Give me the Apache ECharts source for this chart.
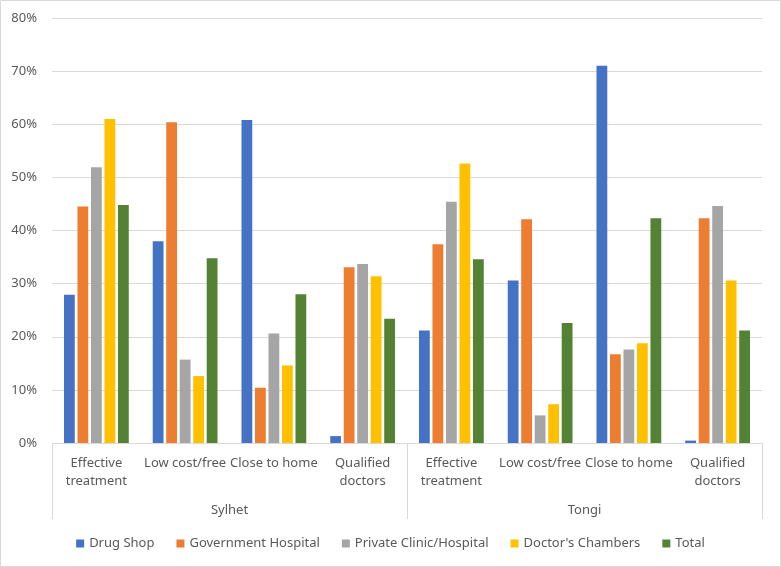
<!DOCTYPE html>
<html>
<head>
<meta charset="utf-8">
<script src="https://cdn.jsdelivr.net/npm/echarts@6/dist/echarts.min.js"></script>
<style>
html,body{margin:0;padding:0;background:#fff;}
#chart{width:781px;height:567px;}
</style>
</head>
<body>
<div id="chart"></div>
<script>
const categories = ['Effective\ntreatment', 'Low cost/free', 'Close to home', 'Qualified\ndoctors',
                    'Effective\ntreatment', 'Low cost/free', 'Close to home', 'Qualified\ndoctors'];
const groups = ['Sylhet', 'Tongi'];
const seriesNames = ['Drug Shop', 'Government Hospital', 'Private Clinic/Hospital', "Doctor's Chambers", 'Total'];
const drugShop       = [27.9, 38.0, 60.8, 1.3, 21.2, 30.6, 71.0, 0.45];
const govHospital    = [44.5, 60.4, 10.4, 33.1, 37.4, 42.1, 16.7, 42.3];
const privateClinic  = [51.9, 15.7, 20.6, 33.7, 45.4, 5.2, 17.6, 44.6];
const doctorsChamber = [61.0, 12.6, 14.6, 31.4, 52.6, 7.3, 18.8, 30.6];
const total          = [44.8, 34.8, 28.0, 23.4, 34.6, 22.6, 42.3, 21.2];
const yTicks = { min: 0, max: 80, interval: 10 };

const colors = ['#4472C4', '#ED7D31', '#A5A5A5', '#FFC000', '#548235'];
const dataSets = [drugShop, govHospital, privateClinic, doctorsChamber, total];
const FONT = 'Noto Sans';
const chart = echarts.init(document.getElementById('chart'));
chart.setOption({
  animation: false,
  textStyle: { fontFamily: FONT },
  color: colors,
  graphic: [{
    type: 'rect', shape: { x: 0.5, y: 0.5, width: 780, height: 566 },
    style: { fill: 'none', stroke: '#d9d9d9', lineWidth: 1 }, silent: true, z: -1
  }],
  grid: { left: 52, right: 19, top: 18, bottom: 124, containLabel: false },
  legend: {
    bottom: 12, left: 'center', itemWidth: 8, itemHeight: 8, itemGap: 22,
    icon: 'rect',
    textStyle: { color: '#595959', fontSize: 13, fontFamily: FONT },
    data: seriesNames
  },
  xAxis: [{
    type: 'category', data: categories, position: 'bottom',
    axisLine: { lineStyle: { color: '#d9d9d9' } },
    axisTick: { show: false },
    axisLabel: { color: '#595959', fontSize: 13, margin: 11, lineHeight: 18, interval: 0, fontFamily: FONT }
  }, {
    type: 'category', data: groups, position: 'bottom',
    axisLine: { show: false },
    axisTick: { show: true, length: 76, lineStyle: { color: '#d9d9d9' } },
    axisLabel: { color: '#595959', fontSize: 13, margin: 61, fontFamily: FONT },
    splitLine: { show: false }
  }],
  yAxis: {
    type: 'value', min: yTicks.min, max: yTicks.max, interval: yTicks.interval,
    axisLine: { show: false }, axisTick: { show: false },
    axisLabel: { formatter: '{value}%', color: '#595959', fontSize: 13, margin: 15, fontFamily: FONT },
    splitLine: { lineStyle: { color: '#d9d9d9' } }
  },
  series: seriesNames.map((n, i) => ({
    name: n, type: 'bar', xAxisIndex: 0, data: dataSets[i],
    barGap: '25%', barCategoryGap: '27%',
    itemStyle: { color: colors[i] }
  }))
});
</script>
</body>
</html>
